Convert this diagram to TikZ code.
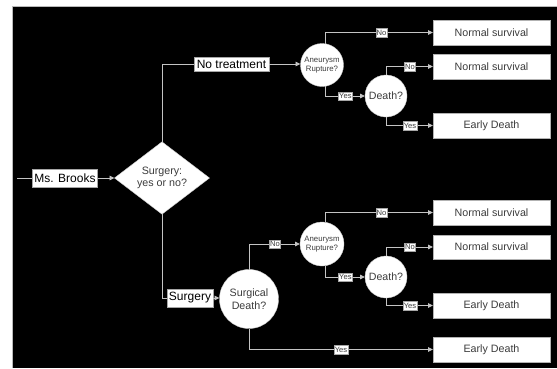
\documentclass[tikz,border=0pt]{standalone}
\usepackage{fontspec}
\setmainfont{Liberation Sans}
\usetikzlibrary{shapes.geometric,arrows.meta}
\definecolor{wire}{HTML}{C4C4C4}
\definecolor{ink}{HTML}{3C3C3C}
\begin{document}
\begin{tikzpicture}[x=1pt,y=-1pt,
  every node/.style={inner sep=0pt, outer sep=0pt},
  wirestyle/.style={draw=wire, line width=0.9pt},
  arr/.style={wirestyle, -{Triangle[length=5pt,width=4.5pt]}},
  namebox/.style={rectangle, draw=gray!70, fill=white, line width=0.5pt,
    font=\fontsize{12}{13}\selectfont, text=black, inner xsep=2pt},
  chance/.style={circle, fill=white, draw=gray!40, line width=0.4pt, text=ink, align=center},
  choice/.style={diamond, fill=white, draw=gray!40, line width=0.4pt, text=ink, align=center,
    minimum width=95pt, minimum height=70pt, font=\fontsize{10.7}{12.7}\selectfont},
  outcome/.style={rectangle, fill=white, draw=gray!60, line width=0.5pt,
    minimum width=117pt, minimum height=24.5pt, text=ink, font=\fontsize{10.7}{12}\selectfont},
  tag/.style={rectangle, fill=white, draw=gray!70, line width=0.4pt, text=ink,
    font=\fontsize{7.6}{8}\selectfont, inner xsep=0.8pt, minimum height=8.5pt},
]
% canvas
\useasboundingbox (0,0) rectangle (557,368);
\fill[white] (0,0) rectangle (557,368);
\fill[black] (12,6) rectangle (557,368);
\draw[gray!55, line width=0.6pt] (12,368) -- (12,6) -- (557,6);

% decision root
\coordinate (start) at (17,178);
\node[namebox, minimum width=65pt, minimum height=18pt] (ms) at (65,178) {Ms. Brooks};
\node[choice] (dia) at (162,178) {Surgery:\\yes or no?};

% no-treatment branch
\node[namebox, minimum width=75pt, minimum height=14pt] (notreat) at (231.5,64) {No treatment};
\node[chance, minimum size=43pt, font=\fontsize{7.8}{8.6}\selectfont] (an1) at (322,65) {Aneurysm\\Rupture?};
\node[chance, minimum size=42pt, font=\fontsize{10.6}{12}\selectfont] (de1) at (386,96) {Death?};
\node[outcome] (ns1) at (491.5,32.5) {Normal survival};
\node[outcome] (ns2) at (491.5,66.5) {Normal survival};
\node[outcome] (ed1) at (491.5,125.5) {Early Death};

% surgery branch
\node[namebox, minimum width=46pt, minimum height=18pt] (sur) at (190,298) {Surgery};
\node[chance, minimum size=59pt, font=\fontsize{10.7}{13.3}\selectfont] (sd) at (249,299) {Surgical\\Death?};
\node[chance, minimum size=44pt, font=\fontsize{7.8}{8.6}\selectfont] (an2) at (322,244) {Aneurysm\\Rupture?};
\node[chance, minimum size=42pt, font=\fontsize{10.6}{12}\selectfont] (de2) at (386,277) {Death?};
\node[outcome] (ns3) at (491.5,212.5) {Normal survival};
\node[outcome] (ns4) at (491.5,247) {Normal survival};
\node[outcome] (ed2) at (491.5,305.5) {Early Death};
\node[outcome] (ed3) at (491.5,349.5) {Early Death};

% connectors
\draw[wirestyle] (start) -- (ms.west);
\draw[arr] (ms.east) -- (dia.west);

\draw[wirestyle] (dia.north) |- (notreat.west);
\draw[arr] (notreat.east) -- (notreat.east -| an1.west);
\draw[arr] (an1.80) |- node[tag, pos=0.76] {No} (ns1.west);
\draw[arr] (an1.-80) |- node[tag, pos=0.75] {Yes} (de1.west);
\draw[arr] (de1.north) |- node[tag, pos=0.755] {No} (ns2.west);
\draw[arr] (de1.south) |- node[tag, pos=0.755] {Yes} (ed1.west);

\draw[wirestyle] (dia.south) |- (sur.west);
\draw[arr] (sur.east) -- (sur.east -| sd.west);
\draw[arr] (sd.north) |- node[tag, pos=0.755] {No} (an2.west);
\draw[arr] (an2.80) |- node[tag, pos=0.76] {No} (ns3.west);
\draw[arr] (an2.-80) |- node[tag, pos=0.75] {Yes} (de2.west);
\draw[arr] (de2.north) |- node[tag, pos=0.755] {No} (ns4.west);
\draw[arr] (de2.south) |- node[tag, pos=0.755] {Yes} (ed2.west);
\draw[arr] (sd.south) |- node[tag, pos=0.75] {Yes} (ed3.west);
\end{tikzpicture}
\end{document}
